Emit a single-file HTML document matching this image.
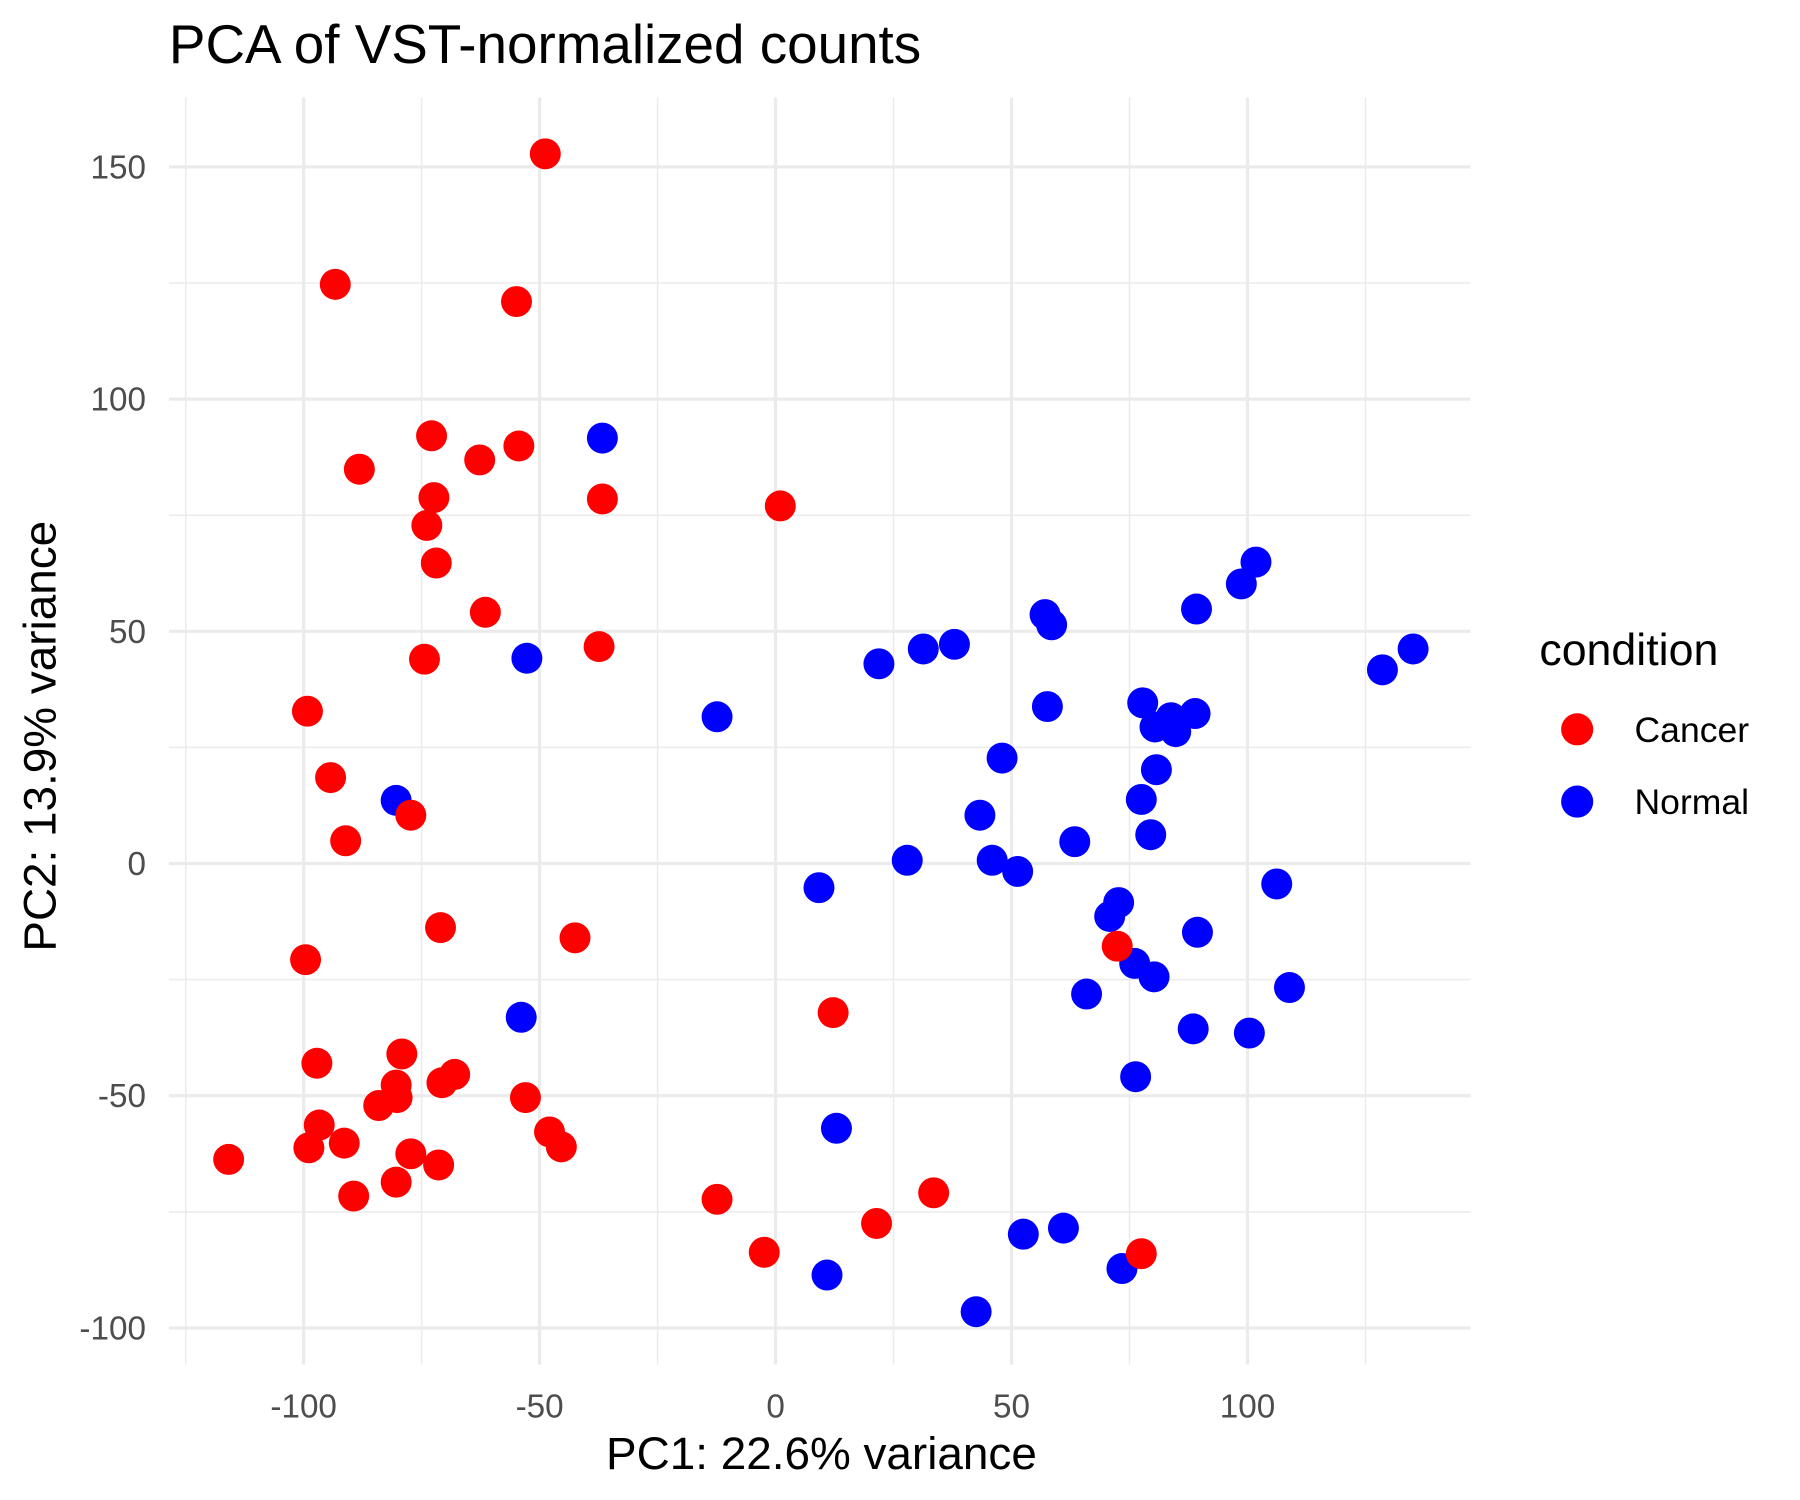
<!DOCTYPE html>
<html><head><meta charset="utf-8"><style>
html,body{margin:0;padding:0;background:#fff;}
svg{display:block;font-family:"Liberation Sans",Arial,sans-serif;}
</style></head><body>
<svg id="chart" width="1800" height="1500" viewBox="0 0 1569 1308" xmlns="http://www.w3.org/2000/svg">
<rect width="1569" height="1308" fill="#fff"/>
<g id="grid"></g>
<g id="pts"></g>
<g id="axes"></g>
<text x="147" y="55" font-size="47.8" fill="#000">PCA of VST-normalized counts</text>
<text x="716" y="1281" font-size="40" text-anchor="middle" fill="#000">PC1: 22.6% variance</text>
<text transform="translate(48,642) rotate(-90)" font-size="40" text-anchor="middle" fill="#000">PC2: 13.9% variance</text>
<g>
<text x="1342" y="580" font-size="39" fill="#000">condition</text>
<circle cx="1375" cy="636" r="14" fill="#ff0000"/>
<text x="1425" y="647" font-size="31" fill="#000">Cancer</text>
<circle cx="1375" cy="699" r="14" fill="#0000ff"/>
<text x="1425" y="710" font-size="31" fill="#000">Normal</text>
</g>
</svg>
<script>
const xTicks=[-100,-50,0,50,100];
const yTicks=[-100,-50,0,50,100,150];
const xMinor=[-125,-75,-25,25,75,125];
const yMinor=[-75,-25,25,75,125];
const cancerX=[-48.8,-93.3,-54.9,-72.9,-88.2,-62.7,-54.4,-72.4,-36.7,1,-73.9,-71.9,-61.5,-74.4,-37.4,-99.2,-94.3,-77.3,-91.1,-71,-42.5,-99.6,12.2,72.4,-97.2,-79.2,-68,-70.7,-80.4,-80.2,-84.1,-53,-96.7,-91.4,-98.9,-47.9,-45.4,-77.3,-115.9,-71.4,-80.4,-89.4,-12.4,33.5,21.4,-2.4,77.5];
const cancerY=[152.8,124.7,121,92.1,84.9,86.9,89.9,78.8,78.5,77,72.8,64.7,54.1,44,46.7,32.8,18.5,10.4,4.9,-13.8,-16,-20.7,-32.1,-17.8,-43,-41,-45.4,-47.2,-47.7,-50.4,-52.1,-50.4,-56.3,-60.2,-61.2,-57.8,-61,-62.5,-63.7,-64.9,-68.6,-71.6,-72.3,-70.9,-77.5,-83.7,-84];
const normalX=[-36.7,-52.7,-80.4,-12.4,-53.9,9.2,21.9,31.3,37.9,57.1,58.5,57.6,48,43.3,27.9,45.9,51.3,63.4,65.9,70.8,72.7,76.1,80.2,89.4,77.8,80.4,83.8,84.8,88.9,80.7,77.5,79.5,89.2,98.7,101.8,128.6,135.1,106.2,108.9,88.5,100.4,76.3,12.9,52.5,61,73.4,10.9,42.5];
const normalY=[91.6,44.2,13.6,31.6,-33.1,-5.2,43,46.2,47.2,53.6,51.4,33.8,22.7,10.4,0.7,0.7,-1.7,4.7,-28.1,-11.4,-8.4,-21.5,-24.4,-14.8,34.6,29.4,31.4,28.4,32.3,20.2,13.8,6.2,54.8,60.2,64.9,41.7,46.2,-4.4,-26.7,-35.6,-36.5,-45.9,-57,-79.8,-78.5,-87.2,-88.6,-96.5];

const NS='http://www.w3.org/2000/svg';
const PL=147,PR=1282,PT=85,PB=1190;
function sx(v){return 676+4.115*v;}
function sy(v){return 753-4.05*v;}
const grid=document.getElementById('grid'),pts=document.getElementById('pts'),axes=document.getElementById('axes');
function line(p,x1,y1,x2,y2,w,name){
  const l=document.createElementNS(NS,'line');
  l.setAttribute('x1',x1);l.setAttribute('y1',y1);l.setAttribute('x2',x2);l.setAttribute('y2',y2);
  l.setAttribute('stroke','#ebebeb');l.setAttribute('stroke-width',w);
  
  
  p.appendChild(l);
}
xMinor.forEach(v=>line(grid,sx(v),PT,sx(v),PB,1.3,'x-minor-gridline'));
yMinor.forEach(v=>line(grid,PL,sy(v),PR,sy(v),1.3,'y-minor-gridline'));
xTicks.forEach(v=>line(grid,sx(v),PT,sx(v),PB,2.8,'x-major-gridline'));
yTicks.forEach(v=>line(grid,PL,sy(v),PR,sy(v),2.8,'y-major-gridline'));
function txt(x,y,s,anchor,name){
  const t=document.createElementNS(NS,'text');
  t.setAttribute('x',x);t.setAttribute('y',y);t.setAttribute('text-anchor',anchor);
  t.setAttribute('font-size','29');t.setAttribute('fill','#4d4d4d');
  t.textContent=s;
  
  
  axes.appendChild(t);
}
xTicks.forEach(v=>txt(sx(v),1236,String(v),'middle','x-tick-label'));
yTicks.forEach(v=>txt(127,sy(v)+10,String(v),'end','y-tick-label'));
function dot(x,y,c,name){
  const d=document.createElementNS(NS,'circle');
  d.setAttribute('cx',sx(x));d.setAttribute('cy',sy(y));d.setAttribute('r',13.5);d.setAttribute('fill',c);
  
  
  pts.appendChild(d);
}
normalX.forEach((x,i)=>dot(x,normalY[i],'#0000ff','point-normal'));
cancerX.forEach((x,i)=>dot(x,cancerY[i],'#ff0000','point-cancer'));
</script>
</body></html>
